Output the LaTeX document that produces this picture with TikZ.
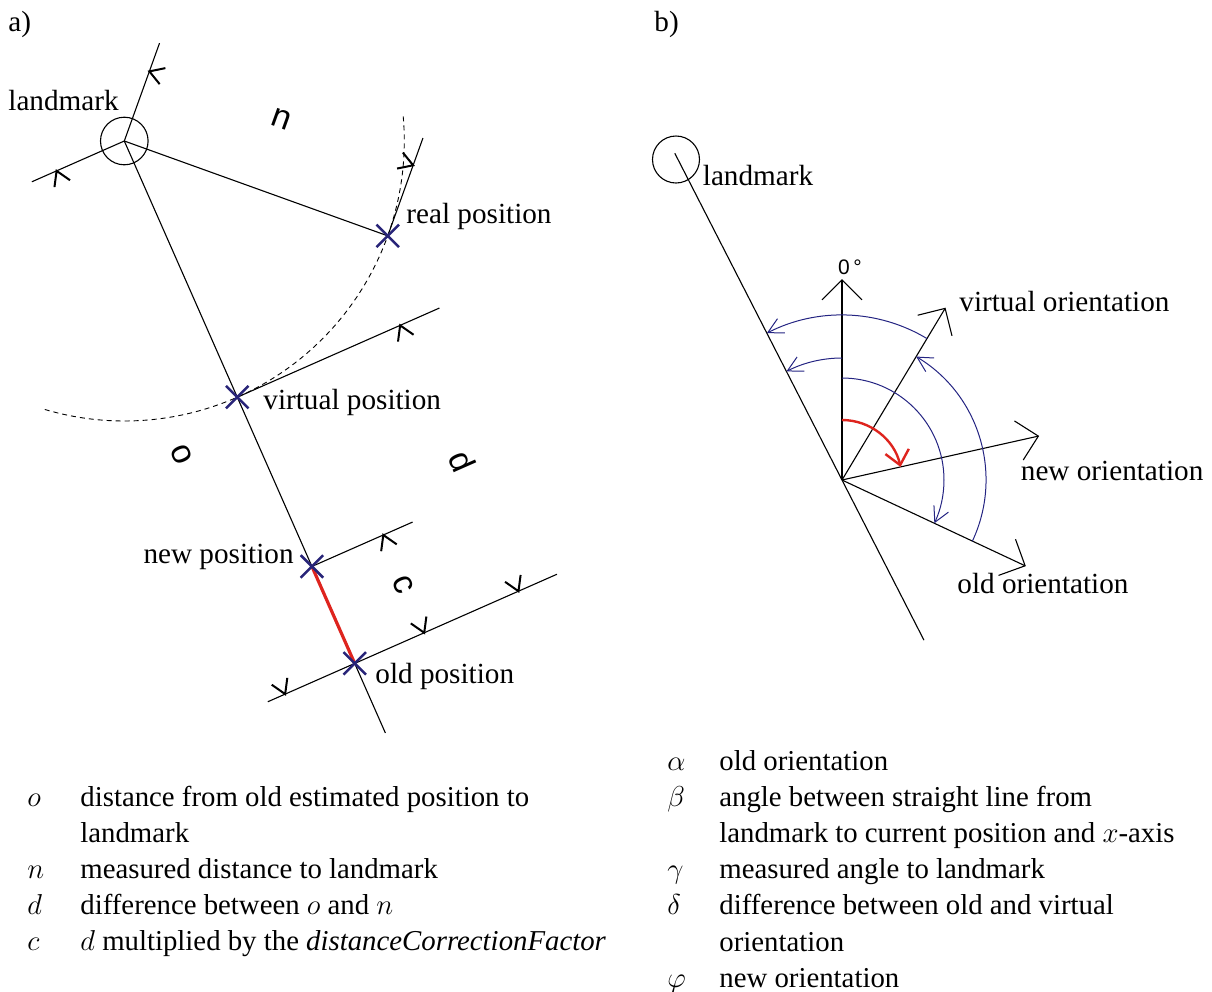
\documentclass[tikz,border=0pt]{standalone}
\usepackage{fontspec}
\setmainfont{Liberation Serif}
\newfontfamily\dimfont{Liberation Sans}
\usepackage{tikz}
\usetikzlibrary{calc,arrows.meta,shapes.misc}
\definecolor{marknavy}{RGB}{40,36,120}
\definecolor{arcblue}{RGB}{36,36,130}
\definecolor{corrred}{RGB}{222,36,30}

\begin{document}
\begin{tikzpicture}[x=0.5pt, y=0.5pt]
\tikzset{
  geo/.style={line width=0.55pt, black},
  trail/.style={dash pattern=on 2.5pt off 2pt, line width=0.45pt},
  posmark/.style={cross out, draw=marknavy, line width=1.25pt, minimum size=10pt, inner sep=0pt},
  lbl/.style={font=\fontsize{14.6}{16}\selectfont, inner sep=0pt},
  legend/.style={font=\fontsize{14.4}{18.1}\selectfont, inner sep=0pt, anchor=base west},
  dimlbl/.style={font=\dimfont\fontsize{17}{18}\selectfont, inner sep=0pt},
  chev/.pic={\draw[line width=1pt] (-14,8.5) -- (0,0) -- (-14,-8.5);},
  orient/.style={line width=0.55pt, -{Straight Barb[length=10pt, width=20pt]}},
  angarc/.style={arcblue, line width=0.5pt, -{Straight Barb[length=7.5pt, width=8pt]}},
  corrarc/.style={corrred, line width=1.2pt, -{Straight Barb[length=7pt, width=12pt]}}
}
\useasboundingbox (0,0) rectangle (1212,-992);

% ---- a) positions
\coordinate (lm) at (124.3,-141);
\coordinate (rp) at ($(lm)+(-19.8:280)$);
\coordinate (vp) at ($(lm)+(-66.2:280)$);
\coordinate (np) at ($(lm)+(-66.2:465)$);
\coordinate (op) at ($(lm)+(-66.2:571)$);
\coordinate (mainend) at ($(lm)+(-66.2:647)$);
\node[circle, draw, line width=0.55pt, minimum size=23.8pt, inner sep=0pt] (lmA) at (lm) {};

\draw[geo] (lm) -- (mainend);
\draw[geo] (lm) -- (rp);
\draw[geo] (lm) -- ++(70.2:104);
\draw[geo] (rp) -- ++(70.2:104);
\draw[geo] (lm) -- ++(203.8:101);
\draw[geo] ($(op)+(203.8:95)$) -- ($(op)+(23.8:221)$);
\draw[geo] (vp) -- ++(23.8:221);
\draw[geo] (np) -- ++(23.8:110);
\draw[trail] (lm) ++(-106.5:280) arc[start angle=-106.5, end angle=5.3, radius=280];
\draw[corrred, line width=1.6pt] (np) -- (op);

% dimension tips
\pic[rotate=160.2] at ($(lm)+(70.2:74)$) {chev};
\pic[rotate=-19.8] at ($(rp)+(70.2:75)$) {chev};
\pic[rotate=113.8] at ($(lm)+(203.8:74)$) {chev};
\pic[rotate=-66.2] at ($(op)+(203.8:76)$) {chev};
\pic[rotate=113.8] at ($(vp)+(23.8:178)$) {chev};
\pic[rotate=-66.2] at ($(op)+(23.8:179)$) {chev};
\pic[rotate=113.8] at ($(np)+(23.8:78)$) {chev};
\pic[rotate=-66.2] at ($(op)+(23.8:76)$) {chev};

\node[posmark] (rmark) at (rp) {};
\node[posmark] (vmark) at (vp) {};
\node[posmark] (nmark) at (np) {};
\node[posmark] (omark) at (op) {};

\node[dimlbl, rotate=-19.8] (nlbl) at ($(lm)+(70.2:74)+(-19.8:140)$) {n};
\node[dimlbl, rotate=-66.2] (olbl) at ($(lm)+(203.8:74)+(-66.2:310)$) {o};
\node[dimlbl, rotate=-66.2] (dlbl) at ($(vp)+(23.8:180)+(-66.2:149)$) {d};
\node[dimlbl, rotate=-66.2] (clbl) at ($(np)+(23.8:76)+(-66.2:53)$) {c};

\node[lbl, anchor=base west] (parta) at (8,-31) {a)};
\node[lbl, anchor=base west] (lmtxtA) at (8,-110) {landmark};
\node[lbl, anchor=base west] (rtxt) at (406,-223) {real position};
\node[lbl, anchor=base west] (vtxt) at (263,-409) {virtual position};
\node[lbl, anchor=base east] (ntxt) at (294,-563) {new position};
\node[lbl, anchor=base west] (otxt) at (375,-683) {old position};

% ---- b) orientations
\coordinate (piv) at (842,-480);
\coordinate (lmb) at ($(piv)+(117.1:367)$);
\coordinate (rayend) at ($(piv)+(-62.9:180)$);
\node[circle, draw, line width=0.55pt, minimum size=23.5pt, inner sep=0pt] (lmB) at (676,-159.5) {};
\draw[geo] (lmb) -- (rayend);
\draw[orient] (piv) -- ++(90:201) coordinate (zero);
\draw[orient] (piv) -- ++(59:201) coordinate (virt);
\draw[orient] (piv) -- ++(12.6:202) coordinate (neworient);
\draw[orient] (piv) -- ++(-25.1:203) coordinate (oldorient);

\draw[angarc] (piv) ++(59:165) arc[start angle=59, end angle=117.1, radius=165];
\draw[angarc] (piv) ++(90:122) arc[start angle=90, end angle=117.1, radius=122];
\draw[angarc] (piv) ++(90:102) arc[start angle=90, end angle=-25.1, radius=102];
\draw[angarc] (piv) ++(-25.1:144) arc[start angle=-25.1, end angle=59, radius=144];
\draw[corrarc] (piv) ++(90:60) arc[start angle=90, end angle=12.6, radius=60];

\node[inner sep=0pt, font=\dimfont\fontsize{10.5}{12}\selectfont] (zerolbl) at (850,-267) {0\,°};
\node[lbl, anchor=base west] (partb) at (654,-31) {b)};
\node[lbl, anchor=base west] (lmtxtB) at (702.5,-185) {landmark};
\node[lbl, anchor=base west] (vtxtB) at (959,-311) {virtual orientation};
\node[lbl, anchor=base west] (ntxtB) at (1020.5,-480) {new orientation};
\node[lbl, anchor=base west] (otxtB) at (957,-593.3) {old orientation};

% ---- legends
\node[legend] (legA) at (27,-806) {\begin{tabular}[t]{@{}p{26.5pt}@{}l@{}}
$o$ & distance from old estimated position to\\
    & landmark\\
$n$ & measured distance to landmark\\
$d$ & difference between $o$ and $n$\\
$c$ & $d$ multiplied by the \textit{distanceCorrectionFactor}
\end{tabular}};
\node[legend] (legB) at (667,-770) {\begin{tabular}[t]{@{}p{26pt}@{}l@{}}
$\alpha$ & old orientation\\
$\beta$ & angle between straight line from\\
        & landmark to current position and $x$-axis\\
$\gamma$ & measured angle to landmark\\
$\delta$ & difference between old and virtual\\
         & orientation\\
$\varphi$ & new orientation
\end{tabular}};
\end{tikzpicture}
\end{document}
